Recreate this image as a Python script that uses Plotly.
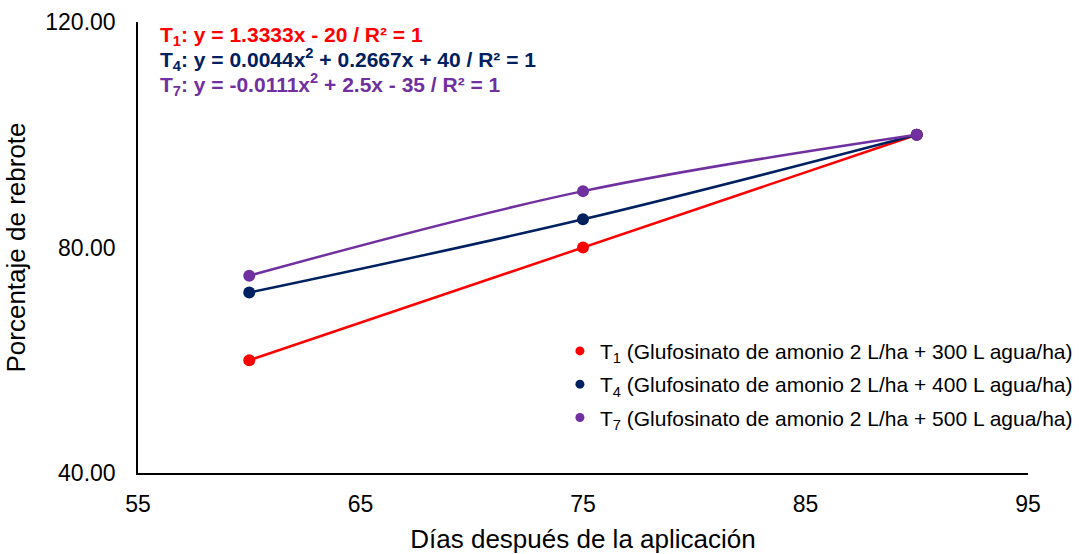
import plotly.graph_objects as go

dias = [60, 75, 90]
t1 = [60, 80, 100]
t4 = [72, 85, 100]
t7 = [75, 90, 100]

series_names = ["T<sub>1</sub>", "T<sub>4</sub>", "T<sub>7</sub>"]
legend_texts = [
    " (Glufosinato de amonio 2 L/ha + 300 L agua/ha)",
    " (Glufosinato de amonio 2 L/ha + 400 L agua/ha)",
    " (Glufosinato de amonio 2 L/ha + 500 L agua/ha)",
]
equations = [
    "T<sub>1</sub>: y = 1.3333x - 20 / R² = 1",
    "T<sub>4</sub>: y = 0.0044x<sup>2</sup> + 0.2667x + 40 / R² = 1",
    "T<sub>7</sub>: y = -0.0111x<sup>2</sup> + 2.5x - 35 / R² = 1",
]
colors = ["#FF0000", "#002060", "#7030A0"]
shapes = ["linear", "spline", "spline"]
x_ticks = [55, 65, 75, 85, 95]
y_ticks = [40, 80, 120]

fig = go.Figure()
for ys, c, sh in zip([t1, t4, t7], colors, shapes):
    fig.add_trace(go.Scatter(
        x=dias, y=ys, mode="lines+markers",
        line=dict(color=c, width=2.5, shape=sh),
        marker=dict(color=c, size=12),
        showlegend=False, hoverinfo="x+y",
    ))
for i, (name, txt, c) in enumerate(zip(series_names, legend_texts, colors)):
    fig.add_trace(go.Scatter(
        x=[None], y=[None], mode="markers",
        marker=dict(color=c, size=9),
        name=name + txt, legendgroup="g%d" % i,
    ))

font_fam = "Liberation Sans, Arial, sans-serif"
for i, (eq, c) in enumerate(zip(equations, colors)):
    fig.add_annotation(
        x=0.0225, y=[0.968, 0.917, 0.862][i], xref="paper", yref="paper",
        xanchor="left", yanchor="middle", text="<b>" + eq + "</b>",
        showarrow=False, font=dict(family=font_fam, size=21, color=c),
    )

fig.update_layout(
    width=1079, height=554,
    margin=dict(l=138, r=51, t=22, b=81, autoexpand=False),
    paper_bgcolor="white", plot_bgcolor="white",
    font=dict(family=font_fam, color="#000000"),
    legend=dict(xref="container", yref="container", x=0.999, xanchor="right",
                y=0.403, yanchor="top",
                font=dict(size=21, color="#000000"),
                bgcolor="rgba(0,0,0,0)", itemwidth=30, tracegroupgap=3),
)
fig.update_xaxes(
    range=[55, 95], tickvals=x_ticks, showgrid=False, zeroline=False,
    showline=True, linecolor="#000000", linewidth=1.5, automargin=False,
    ticks="", tickfont=dict(size=23, color="#000000"), ticklabelstandoff=10,
    title=dict(text="Días después de la aplicación", font=dict(size=26), standoff=14),
)
fig.update_yaxes(
    range=[40, 120], tickvals=y_ticks, tickformat=".2f", showgrid=False, zeroline=False,
    showline=True, linecolor="#000000", linewidth=1.5, automargin=False,
    ticks="", tickfont=dict(size=23, color="#000000"), ticklabelstandoff=16,
    title=dict(text="Porcentaje de rebrote", font=dict(size=26), standoff=12),
)
fig.write_html("out.html", config={"displayModeBar": False},
               post_script="document.body.style.margin='0';")
